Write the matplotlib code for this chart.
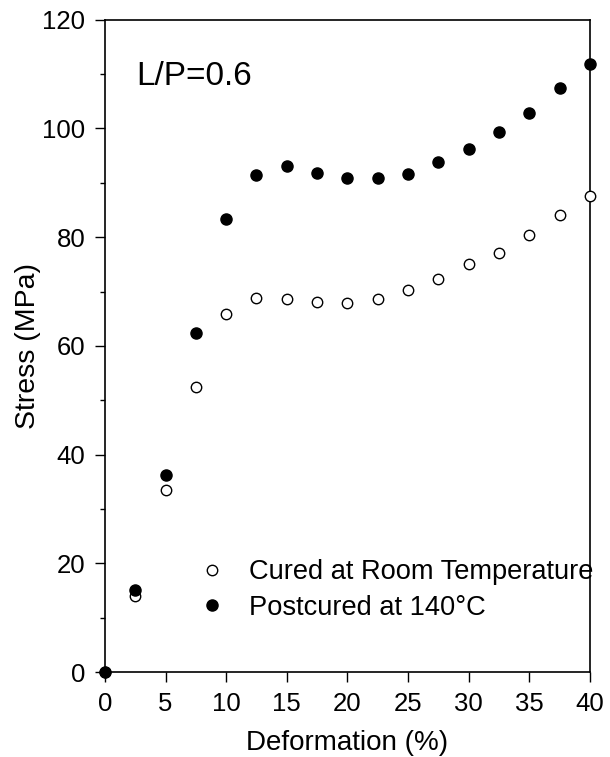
import matplotlib
matplotlib.use('Agg')
import matplotlib.pyplot as plt
from matplotlib.ticker import MultipleLocator

plt.rcParams['font.family'] = ['Liberation Sans', 'DejaVu Sans']

# Données
deformation = [0, 2.5, 5, 7.5, 10, 12.5, 15, 17.5, 20, 22.5, 25, 27.5, 30, 32.5, 35, 37.5, 40]
stress_room = [0, 14.0, 33.6, 52.5, 65.8, 68.8, 68.7, 68.0, 67.9, 68.6, 70.2, 72.3, 75.0, 77.1, 80.4, 84.1, 87.6]
stress_post = [0, 15.1, 36.3, 62.3, 83.4, 91.5, 93.1, 91.8, 90.8, 90.8, 91.7, 93.8, 96.2, 99.3, 102.9, 107.5, 111.8]

fig = plt.figure(figsize=(6.10, 7.57), dpi=100)
ax = fig.add_axes([0.172, 0.112, 0.795, 0.862])

ax.plot(deformation, stress_room, 'o', mfc='white', mec='black', mew=1.0, ms=7.5,
        clip_on=False, zorder=3, label='Cured at Room Temperature')
ax.plot(deformation, stress_post, 'o', mfc='black', mec='black', ms=8,
        clip_on=False, zorder=4, label='Postcured at 140°C')

ax.set_xlim(0, 40)
ax.set_ylim(0, 120)
ax.xaxis.set_major_locator(MultipleLocator(5))
ax.yaxis.set_major_locator(MultipleLocator(20))
ax.yaxis.set_minor_locator(MultipleLocator(10))
ax.tick_params(which='major', direction='out', length=7, width=1, labelsize=18.5,
               pad=7, top=False, right=False)
ax.tick_params(which='minor', direction='out', length=3.5, width=1, top=False, right=False)
for s in ax.spines.values():
    s.set_linewidth(1.2)

ax.set_xlabel('Deformation (%)', fontsize=20, labelpad=10)
ax.set_ylabel('Stress (MPa)', fontsize=20.5, labelpad=1)

ax.text(2.6, 109.6, 'L/P=0.6', fontsize=24, va='center', ha='left')

ax.legend(loc='lower left', bbox_to_anchor=(0.17, 0.062), frameon=False, fontsize=19.6,
          handlelength=1.0, handletextpad=0.85, labelspacing=0.35, borderaxespad=0)

plt.savefig('out.png', dpi=100, facecolor='white')
